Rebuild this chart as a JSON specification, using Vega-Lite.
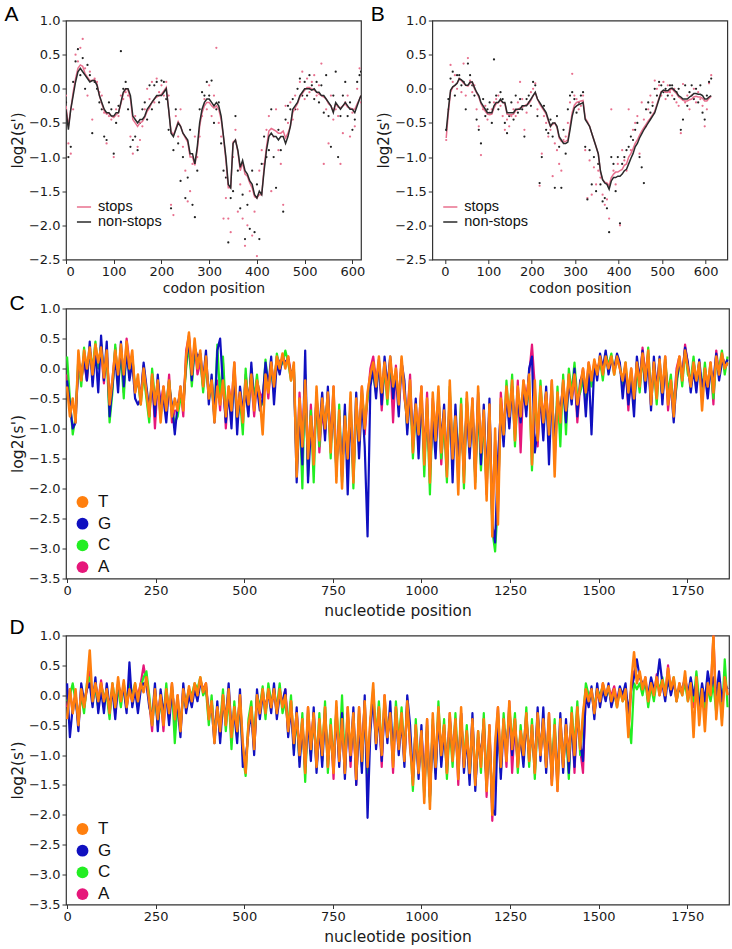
{
"$schema": "https://vega.github.io/schema/vega-lite/v6.json",
"background": "white",
"padding": {"left": 3, "top": 2.5, "right": 4, "bottom": 0},
"spacing": -4,
"config": {
 "font": "DejaVu Sans",
 "view": {"stroke": "#333333", "strokeWidth": 1.2},
 "axis": {"grid": false, "domain": false, "ticks": true, "tickColor": "#333333", "tickSize": 4, "tickWidth": 1, "labelFont": "DejaVu Sans", "labelFontSize": 13, "labelColor": "#1a1a1a", "labelPadding": 2, "labelOverlap": false, "titleFont": "DejaVu Sans", "titleFontSize": 14, "titleFontWeight": "normal", "titleColor": "#1a1a1a"},
 "title": {"font": "Liberation Sans", "fontSize": 21, "fontWeight": "normal", "anchor": "start", "frame": "bounds", "offset": -10, "color": "#000000", "baseline": "alphabetic"},
 "legend": {"title": null, "orient": "none", "padding": 0, "labelFont": "Liberation Sans", "labelColor": "#111111"}
},
"resolve": {"scale": {"color": "independent", "x": "independent", "y": "independent"}, "legend": {"color": "independent"}},
"datasets": {
"a": [
{"c":0,"ns":-0.3,"st":-0.25,"pn":-0.2,"ps":-0.1},
{"c":5,"ns":-0.6,"st":-0.55,"pn":-1.0,"ps":-0.8},
{"c":10,"ns":-0.3,"st":-0.3,"pn":-0.85,"ps":-0.95},
{"c":15,"ns":-0.1,"st":-0.05,"pn":0.1,"ps":-0.3},
{"c":20,"ns":0.1,"st":0.15,"pn":0.4,"ps":0.5},
{"c":25,"ns":0.25,"st":0.3,"pn":0.58,"ps":0.4},
{"c":30,"ns":0.3,"st":0.35,"pn":0.2,"ps":0.6},
{"c":35,"ns":0.25,"st":0.33,"pn":0.45,"ps":0.73},
{"c":40,"ns":0.2,"st":0.22,"pn":0.0,"ps":0.3},
{"c":45,"ns":0.15,"st":0.17,"pn":0.35,"ps":-0.1},
{"c":50,"ns":0.1,"st":0.12,"pn":0.2,"ps":0.25},
{"c":55,"ns":0.12,"st":0.12,"pn":-0.65,"ps":-0.45},
{"c":60,"ns":0.12,"st":0.13,"pn":0.1,"ps":0.15},
{"c":65,"ns":0.05,"st":0.07,"pn":0.0,"ps":0.1},
{"c":70,"ns":-0.1,"st":-0.1,"pn":-0.2,"ps":-0.05},
{"c":75,"ns":-0.2,"st":-0.22,"pn":-0.3,"ps":-0.1},
{"c":80,"ns":-0.3,"st":-0.32,"pn":-0.7,"ps":-0.35},
{"c":85,"ns":-0.35,"st":-0.37,"pn":-0.75,"ps":-0.8},
{"c":90,"ns":-0.35,"st":-0.36,"pn":-0.2,"ps":-0.4},
{"c":95,"ns":-0.4,"st":-0.4,"pn":-0.3,"ps":-0.45},
{"c":100,"ns":-0.4,"st":-0.42,"pn":-0.95,"ps":-1.0},
{"c":105,"ns":-0.35,"st":-0.38,"pn":-0.5,"ps":-0.3},
{"c":110,"ns":-0.35,"st":-0.35,"pn":-0.25,"ps":-0.4},
{"c":115,"ns":-0.2,"st":-0.22,"pn":0.55,"ps":-0.1},
{"c":120,"ns":-0.05,"st":-0.07,"pn":0.0,"ps":-0.15},
{"c":125,"ns":0.0,"st":0.0,"pn":0.1,"ps":-0.05},
{"c":130,"ns":0.0,"st":-0.02,"pn":-0.3,"ps":-0.1},
{"c":135,"ns":-0.1,"st":-0.15,"pn":-0.85,"ps":-0.7},
{"c":140,"ns":-0.4,"st":-0.45,"pn":-0.75,"ps":-0.95},
{"c":145,"ns":-0.45,"st":-0.5,"pn":-0.7,"ps":-0.4},
{"c":150,"ns":-0.5,"st":-0.55,"pn":-0.9,"ps":-0.85},
{"c":155,"ns":-0.45,"st":-0.5,"pn":-0.5,"ps":-0.75},
{"c":160,"ns":-0.45,"st":-0.48,"pn":-0.3,"ps":-0.55},
{"c":165,"ns":-0.4,"st":-0.42,"pn":-0.2,"ps":-0.3},
{"c":170,"ns":-0.3,"st":-0.33,"pn":-0.45,"ps":0.0},
{"c":175,"ns":-0.25,"st":-0.28,"pn":0.05,"ps":-0.15},
{"c":180,"ns":-0.2,"st":-0.2,"pn":-0.3,"ps":0.1},
{"c":185,"ns":-0.15,"st":-0.15,"pn":0.05,"ps":-0.2},
{"c":190,"ns":-0.1,"st":-0.12,"pn":0.1,"ps":0.15},
{"c":195,"ns":-0.1,"st":-0.1,"pn":-0.2,"ps":-0.05},
{"c":200,"ns":-0.1,"st":-0.08,"pn":0.12,"ps":0.05},
{"c":205,"ns":-0.05,"st":-0.03,"pn":0.1,"ps":-0.1},
{"c":210,"ns":0.0,"st":0.02,"pn":-0.15,"ps":0.1},
{"c":215,"ns":-0.3,"st":-0.3,"pn":-0.6,"ps":-0.1},
{"c":220,"ns":-0.65,"st":-0.62,"pn":-1.75,"ps":-1.7},
{"c":225,"ns":-0.7,"st":-0.68,"pn":-0.9,"ps":-1.85},
{"c":230,"ns":-0.6,"st":-0.58,"pn":-0.3,"ps":-0.4},
{"c":235,"ns":-0.5,"st":-0.48,"pn":-0.8,"ps":-0.7},
{"c":240,"ns":-0.55,"st":-0.55,"pn":-1.35,"ps":-0.3},
{"c":245,"ns":-0.65,"st":-0.65,"pn":-1.0,"ps":-0.85},
{"c":250,"ns":-0.7,"st":-0.72,"pn":-1.6,"ps":-1.2},
{"c":255,"ns":-0.75,"st":-0.78,"pn":-1.3,"ps":-1.65},
{"c":260,"ns":-0.95,"st":-1.0,"pn":-0.6,"ps":-1.5},
{"c":265,"ns":-0.95,"st":-1.0,"pn":-1.7,"ps":-1.1},
{"c":270,"ns":-1.1,"st":-1.12,"pn":-1.88,"ps":-0.7},
{"c":275,"ns":-0.85,"st":-0.9,"pn":-1.2,"ps":-1.0},
{"c":280,"ns":-0.5,"st":-0.55,"pn":-0.3,"ps":-0.7},
{"c":285,"ns":-0.3,"st":-0.35,"pn":-0.05,"ps":-0.4},
{"c":290,"ns":-0.2,"st":-0.25,"pn":-0.1,"ps":-0.15},
{"c":295,"ns":-0.15,"st":-0.2,"pn":0.1,"ps":-0.3},
{"c":300,"ns":-0.15,"st":-0.2,"pn":-0.1,"ps":0.05},
{"c":305,"ns":-0.2,"st":-0.25,"pn":0.12,"ps":-0.4},
{"c":310,"ns":-0.25,"st":-0.28,"pn":-0.5,"ps":-0.1},
{"c":315,"ns":-0.2,"st":-0.25,"pn":-0.3,"ps":0.6},
{"c":320,"ns":-0.25,"st":-0.3,"pn":-0.2,"ps":-0.5},
{"c":325,"ns":-0.4,"st":-0.45,"pn":-0.8,"ps":-0.7},
{"c":330,"ns":-0.7,"st":-0.72,"pn":-1.2,"ps":-1.9},
{"c":335,"ns":-1.0,"st":-1.05,"pn":-1.3,"ps":-1.6},
{"c":340,"ns":-1.4,"st":-1.45,"pn":-2.25,"ps":-1.9},
{"c":345,"ns":-1.45,"st":-1.45,"pn":-1.6,"ps":-2.1},
{"c":350,"ns":-0.8,"st":-0.78,"pn":-1.5,"ps":-1.0},
{"c":355,"ns":-0.75,"st":-0.75,"pn":-0.4,"ps":-0.6},
{"c":360,"ns":-0.9,"st":-0.92,"pn":-1.2,"ps":-1.8},
{"c":365,"ns":-1.15,"st":-1.2,"pn":-1.75,"ps":-1.4},
{"c":370,"ns":-1.05,"st":-1.08,"pn":-1.55,"ps":-1.9},
{"c":375,"ns":-1.2,"st":-1.25,"pn":-2.2,"ps":-2.3},
{"c":380,"ns":-1.25,"st":-1.28,"pn":-1.7,"ps":-2.0},
{"c":385,"ns":-1.35,"st":-1.38,"pn":-2.05,"ps":-1.5},
{"c":390,"ns":-1.4,"st":-1.45,"pn":-1.2,"ps":-2.15},
{"c":395,"ns":-1.55,"st":-1.58,"pn":-2.1,"ps":-1.8},
{"c":400,"ns":-1.6,"st":-1.6,"pn":-1.4,"ps":-2.45},
{"c":405,"ns":-1.5,"st":-1.55,"pn":-2.2,"ps":-1.2},
{"c":410,"ns":-1.55,"st":-1.55,"pn":-1.1,"ps":-0.9},
{"c":415,"ns":-1.2,"st":-1.15,"pn":-0.7,"ps":-1.1},
{"c":420,"ns":-0.9,"st":-0.85,"pn":-1.0,"ps":-0.6},
{"c":425,"ns":-0.7,"st":-0.62,"pn":-0.9,"ps":-0.4},
{"c":430,"ns":-0.65,"st":-0.58,"pn":-0.3,"ps":-1.5},
{"c":435,"ns":-0.7,"st":-0.6,"pn":-1.0,"ps":-0.7},
{"c":440,"ns":-0.7,"st":-0.62,"pn":-1.45,"ps":-0.3},
{"c":445,"ns":-0.75,"st":-0.65,"pn":-0.6,"ps":-0.9},
{"c":450,"ns":-0.7,"st":-0.65,"pn":-0.9,"ps":-1.1},
{"c":455,"ns":-0.7,"st":-0.62,"pn":-1.8,"ps":-1.7},
{"c":460,"ns":-0.8,"st":-0.72,"pn":-0.45,"ps":-0.25},
{"c":465,"ns":-0.7,"st":-0.65,"pn":-0.25,"ps":-0.5},
{"c":470,"ns":-0.55,"st":-0.55,"pn":-0.3,"ps":-0.2},
{"c":475,"ns":-0.3,"st":-0.35,"pn":-0.15,"ps":-0.45},
{"c":480,"ns":-0.25,"st":-0.28,"pn":-0.3,"ps":-0.1},
{"c":485,"ns":-0.2,"st":-0.22,"pn":0.0,"ps":-0.3},
{"c":490,"ns":-0.1,"st":-0.12,"pn":0.15,"ps":0.1},
{"c":495,"ns":-0.05,"st":-0.07,"pn":-0.1,"ps":0.25},
{"c":500,"ns":0.0,"st":-0.02,"pn":0.1,"ps":-0.15},
{"c":505,"ns":0.0,"st":0.02,"pn":-0.1,"ps":0.15},
{"c":510,"ns":0.0,"st":0.02,"pn":0.2,"ps":-0.05},
{"c":515,"ns":-0.02,"st":0.0,"pn":0.05,"ps":0.1},
{"c":520,"ns":0.0,"st":-0.02,"pn":-0.15,"ps":0.2},
{"c":525,"ns":-0.05,"st":-0.05,"pn":0.1,"ps":-0.1},
{"c":530,"ns":-0.05,"st":-0.08,"pn":-0.2,"ps":0.05},
{"c":535,"ns":-0.1,"st":-0.1,"pn":0.05,"ps":0.37},
{"c":540,"ns":-0.1,"st":-0.12,"pn":-0.35,"ps":-1.1},
{"c":545,"ns":-0.15,"st":-0.15,"pn":0.2,"ps":-0.3},
{"c":550,"ns":-0.2,"st":-0.22,"pn":-0.4,"ps":-0.8},
{"c":555,"ns":-0.25,"st":-0.25,"pn":-0.85,"ps":-0.1},
{"c":560,"ns":-0.35,"st":-0.33,"pn":-0.1,"ps":-0.45},
{"c":565,"ns":-0.2,"st":-0.22,"pn":0.25,"ps":-0.3},
{"c":570,"ns":-0.25,"st":-0.27,"pn":-1.0,"ps":-0.4},
{"c":575,"ns":-0.3,"st":-0.28,"pn":-0.4,"ps":-1.1},
{"c":580,"ns":-0.25,"st":-0.25,"pn":-0.1,"ps":-0.65},
{"c":585,"ns":-0.2,"st":-0.22,"pn":0.1,"ps":-0.2},
{"c":590,"ns":-0.25,"st":-0.27,"pn":-0.4,"ps":-0.1},
{"c":595,"ns":-0.3,"st":-0.28,"pn":-0.2,"ps":-0.7},
{"c":600,"ns":-0.3,"st":-0.3,"pn":-0.6,"ps":-0.35},
{"c":605,"ns":-0.35,"st":-0.3,"pn":-0.45,"ps":-0.55},
{"c":610,"ns":-0.25,"st":-0.22,"pn":0.1,"ps":0.0},
{"c":615,"ns":-0.15,"st":-0.15,"pn":0.2,"ps":0.3},
{"c":618,"ns":-0.1,"st":-0.1,"pn":0.25,"ps":-0.2}
],
"b": [
{"c":3,"ns":-0.62,"st":-0.72,"pn":-0.6,"ps":-0.75},
{"c":8,"ns":-0.3,"st":-0.35,"pn":-0.15,"ps":-0.3},
{"c":13,"ns":-0.02,"st":-0.05,"pn":0.15,"ps":0.35},
{"c":18,"ns":0.03,"st":0.02,"pn":0.25,"ps":0.1},
{"c":23,"ns":0.05,"st":0.05,"pn":-0.1,"ps":0.2},
{"c":28,"ns":0.08,"st":0.08,"pn":0.2,"ps":0.0},
{"c":33,"ns":0.15,"st":0.14,"pn":0.2,"ps":0.15},
{"c":38,"ns":0.13,"st":0.12,"pn":0.05,"ps":-0.05},
{"c":43,"ns":0.1,"st":0.08,"pn":0.1,"ps":0.37},
{"c":48,"ns":0.05,"st":0.05,"pn":-0.3,"ps":-0.1},
{"c":53,"ns":0.05,"st":0.04,"pn":0.37,"ps":0.45},
{"c":58,"ns":0.1,"st":0.08,"pn":0.2,"ps":0.12},
{"c":63,"ns":0.1,"st":0.1,"pn":0.05,"ps":-0.05},
{"c":68,"ns":0.02,"st":0.0,"pn":-0.1,"ps":0.05},
{"c":73,"ns":-0.05,"st":-0.06,"pn":-0.45,"ps":-0.3},
{"c":78,"ns":-0.1,"st":-0.12,"pn":-0.6,"ps":-0.55},
{"c":83,"ns":-0.2,"st":-0.22,"pn":-0.8,"ps":-0.97},
{"c":88,"ns":-0.25,"st":-0.28,"pn":-0.15,"ps":-0.3},
{"c":93,"ns":-0.3,"st":-0.33,"pn":-0.4,"ps":-0.25},
{"c":98,"ns":-0.35,"st":-0.37,"pn":-0.3,"ps":-0.45},
{"c":103,"ns":-0.35,"st":-0.38,"pn":-0.2,"ps":-0.35},
{"c":108,"ns":-0.35,"st":-0.37,"pn":-0.5,"ps":-0.3},
{"c":113,"ns":-0.25,"st":-0.28,"pn":0.43,"ps":-0.2},
{"c":118,"ns":-0.2,"st":-0.22,"pn":-0.1,"ps":-0.15},
{"c":123,"ns":-0.2,"st":-0.2,"pn":-0.3,"ps":-0.1},
{"c":128,"ns":-0.15,"st":-0.17,"pn":-0.05,"ps":-0.25},
{"c":133,"ns":-0.2,"st":-0.2,"pn":-0.15,"ps":-0.4},
{"c":138,"ns":-0.2,"st":-0.22,"pn":-0.5,"ps":-0.6},
{"c":143,"ns":-0.35,"st":-0.37,"pn":-0.65,"ps":-0.45},
{"c":148,"ns":-0.35,"st":-0.38,"pn":-0.4,"ps":-0.55},
{"c":153,"ns":-0.35,"st":-0.38,"pn":-0.2,"ps":-0.4},
{"c":158,"ns":-0.35,"st":-0.37,"pn":-0.45,"ps":-0.3},
{"c":163,"ns":-0.3,"st":-0.32,"pn":-0.1,"ps":-0.4},
{"c":168,"ns":-0.3,"st":-0.3,"pn":-0.35,"ps":-0.2},
{"c":173,"ns":-0.3,"st":-0.28,"pn":-0.15,"ps":0.1},
{"c":178,"ns":-0.25,"st":-0.27,"pn":-0.3,"ps":-0.15},
{"c":183,"ns":-0.25,"st":-0.25,"pn":-0.7,"ps":-0.6},
{"c":188,"ns":-0.25,"st":-0.23,"pn":-0.15,"ps":-0.35},
{"c":193,"ns":-0.2,"st":-0.22,"pn":-0.1,"ps":-0.2},
{"c":198,"ns":-0.15,"st":-0.17,"pn":-0.25,"ps":-0.05},
{"c":203,"ns":-0.1,"st":-0.1,"pn":0.1,"ps":0.0},
{"c":208,"ns":-0.05,"st":-0.06,"pn":0.05,"ps":0.08},
{"c":213,"ns":-0.15,"st":-0.15,"pn":-0.4,"ps":-0.3},
{"c":218,"ns":-0.2,"st":-0.22,"pn":-1.38,"ps":-1.42},
{"c":223,"ns":-0.25,"st":-0.27,"pn":-1.0,"ps":-0.95},
{"c":228,"ns":-0.3,"st":-0.32,"pn":-0.25,"ps":-0.4},
{"c":233,"ns":-0.35,"st":-0.37,"pn":-0.6,"ps":-0.5},
{"c":238,"ns":-0.45,"st":-0.47,"pn":-0.65,"ps":-0.7},
{"c":243,"ns":-0.55,"st":-0.55,"pn":-0.45,"ps":-0.6},
{"c":248,"ns":-0.5,"st":-0.52,"pn":-0.7,"ps":-1.28},
{"c":253,"ns":-0.5,"st":-0.5,"pn":-1.45,"ps":-0.8},
{"c":258,"ns":-0.55,"st":-0.57,"pn":-0.4,"ps":-0.9},
{"c":263,"ns":-0.7,"st":-0.72,"pn":-0.85,"ps":-1.1},
{"c":268,"ns":-0.75,"st":-0.77,"pn":-1.45,"ps":-1.2},
{"c":273,"ns":-0.8,"st":-0.78,"pn":-0.6,"ps":-0.75},
{"c":278,"ns":-0.8,"st":-0.77,"pn":-0.95,"ps":-0.7},
{"c":283,"ns":-0.78,"st":-0.75,"pn":-0.3,"ps":-0.5},
{"c":288,"ns":-0.6,"st":-0.55,"pn":-0.1,"ps":-0.2},
{"c":293,"ns":-0.4,"st":-0.35,"pn":-0.05,"ps":0.22},
{"c":298,"ns":-0.28,"st":-0.24,"pn":-0.15,"ps":-0.1},
{"c":303,"ns":-0.25,"st":-0.2,"pn":-0.35,"ps":-0.15},
{"c":308,"ns":-0.23,"st":-0.19,"pn":-0.2,"ps":-0.3},
{"c":313,"ns":-0.22,"st":-0.18,"pn":-0.1,"ps":-0.25},
{"c":318,"ns":-0.2,"st":-0.17,"pn":-0.05,"ps":-0.1},
{"c":323,"ns":-0.45,"st":-0.43,"pn":-0.85,"ps":-0.9},
{"c":328,"ns":-0.5,"st":-0.48,"pn":-1.62,"ps":-1.6},
{"c":333,"ns":-0.55,"st":-0.55,"pn":-0.9,"ps":-1.05},
{"c":338,"ns":-0.65,"st":-0.65,"pn":-1.4,"ps":-1.55},
{"c":343,"ns":-0.75,"st":-0.75,"pn":-1.0,"ps":-1.15},
{"c":348,"ns":-0.85,"st":-0.85,"pn":-1.5,"ps":-1.4},
{"c":353,"ns":-0.95,"st":-0.95,"pn":-1.1,"ps":-1.2},
{"c":358,"ns":-1.2,"st":-1.22,"pn":-1.4,"ps":-1.3},
{"c":363,"ns":-1.33,"st":-1.33,"pn":-1.65,"ps":-1.55},
{"c":368,"ns":-1.38,"st":-1.37,"pn":-1.6,"ps":-1.7},
{"c":373,"ns":-1.4,"st":-1.38,"pn":-1.75,"ps":-1.62},
{"c":378,"ns":-1.47,"st":-1.42,"pn":-2.1,"ps":-1.9},
{"c":383,"ns":-1.35,"st":-1.3,"pn":-1.0,"ps":-0.3},
{"c":388,"ns":-1.3,"st":-1.25,"pn":-1.1,"ps":-1.2},
{"c":393,"ns":-1.3,"st":-1.22,"pn":-1.5,"ps":-1.4},
{"c":398,"ns":-1.28,"st":-1.22,"pn":-1.0,"ps":-1.1},
{"c":403,"ns":-1.28,"st":-1.2,"pn":-1.97,"ps":-2.0},
{"c":408,"ns":-1.25,"st":-1.18,"pn":-1.1,"ps":-0.9},
{"c":413,"ns":-1.2,"st":-1.12,"pn":-1.0,"ps":-1.05},
{"c":418,"ns":-1.18,"st":-1.1,"pn":-0.9,"ps":-1.2},
{"c":423,"ns":-1.1,"st":-1.0,"pn":-0.85,"ps":-0.3},
{"c":428,"ns":-1.02,"st":-0.95,"pn":-0.7,"ps":-0.9},
{"c":433,"ns":-0.95,"st":-0.88,"pn":-0.75,"ps":-0.6},
{"c":438,"ns":-0.85,"st":-0.8,"pn":-0.6,"ps":-0.5},
{"c":443,"ns":-0.8,"st":-0.75,"pn":-0.5,"ps":-0.4},
{"c":448,"ns":-0.72,"st":-0.68,"pn":-1.0,"ps":-0.95},
{"c":453,"ns":-0.66,"st":-0.62,"pn":-1.15,"ps":-0.2},
{"c":458,"ns":-0.6,"st":-0.57,"pn":-1.38,"ps":-0.45},
{"c":463,"ns":-0.55,"st":-0.52,"pn":-0.3,"ps":-0.55},
{"c":468,"ns":-0.5,"st":-0.47,"pn":-0.2,"ps":-0.3},
{"c":473,"ns":-0.45,"st":-0.43,"pn":-0.35,"ps":-0.1},
{"c":478,"ns":-0.4,"st":-0.38,"pn":-0.25,"ps":-0.2},
{"c":483,"ns":-0.35,"st":-0.33,"pn":0.0,"ps":0.12},
{"c":488,"ns":-0.25,"st":-0.23,"pn":-0.1,"ps":0.0},
{"c":493,"ns":-0.15,"st":-0.13,"pn":0.1,"ps":0.05},
{"c":498,"ns":-0.05,"st":-0.04,"pn":0.05,"ps":-0.1},
{"c":503,"ns":-0.02,"st":-0.03,"pn":-0.05,"ps":0.1},
{"c":508,"ns":-0.03,"st":-0.05,"pn":0.0,"ps":-0.15},
{"c":513,"ns":-0.03,"st":-0.05,"pn":-0.1,"ps":0.05},
{"c":518,"ns":0.0,"st":-0.02,"pn":0.05,"ps":-0.05},
{"c":523,"ns":0.01,"st":0.0,"pn":0.05,"ps":-0.1},
{"c":528,"ns":-0.02,"st":-0.04,"pn":-0.15,"ps":0.0},
{"c":533,"ns":-0.05,"st":-0.07,"pn":-0.05,"ps":-0.2},
{"c":538,"ns":-0.1,"st":-0.12,"pn":0.0,"ps":-0.25},
{"c":543,"ns":-0.12,"st":-0.14,"pn":-0.6,"ps":-0.65},
{"c":548,"ns":-0.15,"st":-0.17,"pn":-0.45,"ps":0.07},
{"c":553,"ns":-0.15,"st":-0.18,"pn":0.05,"ps":-0.2},
{"c":558,"ns":-0.15,"st":-0.18,"pn":-0.25,"ps":-0.1},
{"c":563,"ns":-0.12,"st":-0.16,"pn":-0.05,"ps":-0.3},
{"c":568,"ns":-0.1,"st":-0.15,"pn":0.05,"ps":-0.1},
{"c":573,"ns":-0.07,"st":-0.12,"pn":-0.15,"ps":0.0},
{"c":578,"ns":-0.07,"st":-0.11,"pn":0.0,"ps":-0.2},
{"c":583,"ns":-0.08,"st":-0.12,"pn":-0.2,"ps":-0.05},
{"c":588,"ns":-0.08,"st":-0.12,"pn":0.05,"ps":-0.15},
{"c":593,"ns":-0.1,"st":-0.14,"pn":-0.35,"ps":-0.25},
{"c":598,"ns":-0.15,"st":-0.18,"pn":-0.45,"ps":-0.55},
{"c":603,"ns":-0.15,"st":-0.18,"pn":-0.1,"ps":-0.3},
{"c":608,"ns":-0.12,"st":-0.14,"pn":0.1,"ps":0.08},
{"c":613,"ns":-0.1,"st":-0.11,"pn":0.15,"ps":0.2}
],
"c": [
{"p":0,"T":-0.3,"G":-0.2,"C":0.2,"A":-0.1},
{"p":8,"T":-0.8,"G":-0.6,"C":-0.5,"A":-0.7},
{"p":16,"T":-0.5,"G":-1.0,"C":-1.1,"A":-0.6},
{"p":24,"T":-0.9,"G":-0.9,"C":-0.8,"A":-0.7},
{"p":32,"T":0.3,"G":0.1,"C":0.2,"A":0.0},
{"p":40,"T":-0.2,"G":-0.1,"C":-0.3,"A":-0.2},
{"p":48,"T":0.3,"G":0.2,"C":0.35,"A":0.1},
{"p":56,"T":0.0,"G":-0.2,"C":-0.1,"A":-0.2},
{"p":64,"T":0.35,"G":0.45,"C":0.3,"A":0.3},
{"p":72,"T":-0.1,"G":-0.3,"C":0.0,"A":-0.1},
{"p":80,"T":0.4,"G":0.3,"C":0.45,"A":0.35},
{"p":88,"T":0.1,"G":-0.4,"C":0.0,"A":0.05},
{"p":96,"T":0.35,"G":0.55,"C":0.4,"A":0.3},
{"p":104,"T":-0.15,"G":-0.2,"C":-0.1,"A":-0.25},
{"p":112,"T":0.3,"G":0.45,"C":0.2,"A":0.25},
{"p":120,"T":-0.6,"G":-0.8,"C":-0.9,"A":-0.5},
{"p":128,"T":-0.2,"G":-0.3,"C":-0.4,"A":-0.2},
{"p":136,"T":0.3,"G":0.2,"C":0.4,"A":0.35},
{"p":144,"T":-0.1,"G":-0.4,"C":-0.3,"A":-0.2},
{"p":152,"T":0.4,"G":0.45,"C":0.3,"A":0.3},
{"p":160,"T":-0.1,"G":-0.3,"C":-0.5,"A":-0.4},
{"p":168,"T":0.45,"G":0.3,"C":0.4,"A":0.5},
{"p":176,"T":0.0,"G":-0.2,"C":-0.1,"A":0.1},
{"p":184,"T":0.3,"G":0.1,"C":0.2,"A":0.2},
{"p":192,"T":-0.4,"G":-0.5,"C":-0.3,"A":-0.4},
{"p":200,"T":-0.1,"G":-0.6,"C":-0.2,"A":-0.2},
{"p":208,"T":-0.6,"G":-0.5,"C":-0.6,"A":-0.5},
{"p":216,"T":0.0,"G":0.1,"C":-0.1,"A":0.05},
{"p":224,"T":-0.4,"G":-0.3,"C":-0.5,"A":-0.4},
{"p":232,"T":-0.8,"G":-0.7,"C":-0.9,"A":-0.8},
{"p":240,"T":-0.1,"G":-0.2,"C":0.0,"A":-0.1},
{"p":248,"T":-0.6,"G":-0.8,"C":-0.5,"A":-1.0},
{"p":256,"T":-0.2,"G":-0.1,"C":-0.3,"A":-0.2},
{"p":264,"T":-0.9,"G":-0.7,"C":-0.8,"A":-0.6},
{"p":272,"T":-0.3,"G":-0.5,"C":-0.4,"A":-0.3},
{"p":280,"T":-0.7,"G":-0.9,"C":-0.6,"A":-0.7},
{"p":288,"T":-0.2,"G":-0.3,"C":-0.2,"A":-0.1},
{"p":296,"T":-0.8,"G":-0.6,"C":-0.7,"A":-0.9},
{"p":304,"T":-0.5,"G":-1.1,"C":-0.9,"A":-0.7},
{"p":312,"T":-0.7,"G":-0.6,"C":-0.8,"A":-0.7},
{"p":320,"T":-0.3,"G":-0.4,"C":-0.5,"A":-0.3},
{"p":328,"T":-0.7,"G":-0.6,"C":-0.6,"A":-0.8},
{"p":336,"T":0.2,"G":0.1,"C":0.0,"A":0.3},
{"p":344,"T":0.6,"G":0.5,"C":0.4,"A":0.55},
{"p":352,"T":-0.1,"G":-0.2,"C":-0.3,"A":0.0},
{"p":360,"T":0.5,"G":0.35,"C":0.3,"A":0.4},
{"p":368,"T":0.0,"G":0.2,"C":0.1,"A":-0.1},
{"p":376,"T":0.3,"G":0.25,"C":0.2,"A":0.1},
{"p":384,"T":-0.3,"G":-0.2,"C":-0.4,"A":-0.3},
{"p":392,"T":0.2,"G":0.3,"C":0.1,"A":0.2},
{"p":400,"T":-0.5,"G":-0.6,"C":-0.4,"A":-0.5},
{"p":408,"T":-0.2,"G":-0.1,"C":-0.3,"A":-0.2},
{"p":416,"T":-0.9,"G":-0.9,"C":-0.8,"A":-0.7},
{"p":424,"T":-0.3,"G":0.3,"C":0.4,"A":-0.2},
{"p":432,"T":-0.6,"G":0.5,"C":-0.5,"A":-0.7},
{"p":440,"T":-0.2,"G":-0.3,"C":0.2,"A":0.1},
{"p":448,"T":-0.8,"G":-0.9,"C":-0.7,"A":-1.0},
{"p":456,"T":-0.3,"G":-0.4,"C":-0.5,"A":-0.3},
{"p":464,"T":-0.7,"G":-1.0,"C":-0.8,"A":-0.6},
{"p":472,"T":0.1,"G":0.0,"C":-0.1,"A":0.1},
{"p":480,"T":-0.8,"G":-1.1,"C":-0.9,"A":-0.8},
{"p":488,"T":-0.4,"G":-0.3,"C":-0.5,"A":-0.4},
{"p":496,"T":-0.9,"G":-0.7,"C":-1.1,"A":-0.8},
{"p":504,"T":-0.2,"G":-0.4,"C":0.0,"A":-0.1},
{"p":512,"T":-0.6,"G":-0.8,"C":-0.7,"A":-0.5},
{"p":520,"T":-0.1,"G":0.1,"C":0.0,"A":-0.2},
{"p":528,"T":-0.7,"G":-0.6,"C":-0.5,"A":-0.8},
{"p":536,"T":-0.2,"G":-0.3,"C":-0.1,"A":-0.2},
{"p":544,"T":-0.5,"G":-0.7,"C":-0.6,"A":-0.4},
{"p":552,"T":-1.1,"G":-0.5,"C":-0.6,"A":-0.5},
{"p":560,"T":-0.1,"G":0.1,"C":0.15,"A":0.0},
{"p":568,"T":-0.4,"G":-0.3,"C":-0.3,"A":-0.5},
{"p":576,"T":0.1,"G":0.2,"C":0.0,"A":0.1},
{"p":584,"T":-0.3,"G":-0.6,"C":-0.4,"A":-0.3},
{"p":592,"T":0.2,"G":0.1,"C":0.25,"A":0.2},
{"p":600,"T":0.0,"G":-0.1,"C":0.0,"A":0.1},
{"p":608,"T":0.25,"G":0.2,"C":0.1,"A":0.15},
{"p":616,"T":0.0,"G":0.1,"C":0.3,"A":0.05},
{"p":624,"T":0.2,"G":0.15,"C":0.1,"A":0.2},
{"p":632,"T":-0.2,"G":-0.1,"C":-0.2,"A":-0.1},
{"p":640,"T":0.1,"G":0.0,"C":0.05,"A":0.0},
{"p":648,"T":-1.8,"G":-1.9,"C":-1.7,"A":-1.6},
{"p":656,"T":-0.5,"G":-0.7,"C":-0.6,"A":-0.4},
{"p":664,"T":-1.3,"G":-1.6,"C":-2.0,"A":-1.2},
{"p":672,"T":-0.2,"G":0.3,"C":-0.1,"A":-0.3},
{"p":680,"T":-1.5,"G":-1.9,"C":-1.8,"A":-1.6},
{"p":688,"T":-0.8,"G":-1.0,"C":-0.7,"A":-0.6},
{"p":696,"T":-1.6,"G":-1.4,"C":-1.9,"A":-1.5},
{"p":704,"T":-0.3,"G":-0.5,"C":-0.4,"A":-0.4},
{"p":712,"T":-1.2,"G":-1.0,"C":-1.3,"A":-1.4},
{"p":720,"T":-0.5,"G":-0.4,"C":-0.6,"A":-0.7},
{"p":728,"T":-1.0,"G":-1.2,"C":-0.9,"A":-1.1},
{"p":736,"T":-0.4,"G":-0.3,"C":-0.5,"A":-0.4},
{"p":744,"T":-1.4,"G":-1.3,"C":-1.5,"A":-1.2},
{"p":752,"T":-0.3,"G":-0.6,"C":-0.4,"A":-0.3},
{"p":760,"T":-1.9,"G":-1.7,"C":-1.8,"A":-1.6},
{"p":768,"T":-0.7,"G":-0.8,"C":-0.6,"A":-0.9},
{"p":776,"T":-2.0,"G":-1.8,"C":-1.9,"A":-1.7},
{"p":784,"T":-0.8,"G":-0.6,"C":-0.7,"A":-0.9},
{"p":792,"T":-1.5,"G":-2.1,"C":-1.6,"A":-1.4},
{"p":800,"T":-0.4,"G":-0.7,"C":-0.5,"A":-0.6},
{"p":808,"T":-1.9,"G":-1.7,"C":-2.0,"A":-1.8},
{"p":816,"T":-0.5,"G":-0.4,"C":-0.6,"A":-0.7},
{"p":824,"T":-1.2,"G":-1.5,"C":-1.3,"A":-1.1},
{"p":832,"T":-0.3,"G":-0.5,"C":-0.4,"A":-0.3},
{"p":840,"T":-1.0,"G":-1.3,"C":-0.9,"A":-1.1},
{"p":848,"T":-0.4,"G":-2.8,"C":-0.5,"A":-0.5},
{"p":856,"T":-0.1,"G":-0.3,"C":-0.2,"A":0.0},
{"p":864,"T":0.1,"G":0.0,"C":-0.1,"A":0.2},
{"p":872,"T":-0.3,"G":-0.5,"C":-0.4,"A":-0.2},
{"p":880,"T":0.2,"G":0.15,"C":0.1,"A":0.1},
{"p":888,"T":-0.4,"G":-0.6,"C":-0.5,"A":-0.7},
{"p":896,"T":0.1,"G":0.2,"C":0.0,"A":0.05},
{"p":904,"T":-0.5,"G":-0.3,"C":-0.6,"A":-0.4},
{"p":912,"T":0.2,"G":0.2,"C":0.1,"A":0.15},
{"p":920,"T":-0.3,"G":-0.5,"C":-0.4,"A":-0.9},
{"p":928,"T":0.0,"G":-0.1,"C":-0.2,"A":0.05},
{"p":936,"T":-0.6,"G":-0.8,"C":-0.5,"A":-0.6},
{"p":944,"T":0.2,"G":0.1,"C":0.05,"A":0.15},
{"p":952,"T":-0.4,"G":-0.2,"C":-0.3,"A":-0.5},
{"p":960,"T":-0.9,"G":-1.1,"C":-1.0,"A":-0.8},
{"p":968,"T":-0.2,"G":-0.4,"C":-0.3,"A":-0.1},
{"p":976,"T":-1.4,"G":-1.2,"C":-1.5,"A":-1.3},
{"p":984,"T":-0.6,"G":-0.5,"C":-0.7,"A":-0.8},
{"p":992,"T":-1.1,"G":-1.5,"C":-1.2,"A":-1.0},
{"p":1000,"T":-0.3,"G":-0.5,"C":-0.4,"A":-0.3},
{"p":1008,"T":-1.6,"G":-1.4,"C":-1.8,"A":-1.5},
{"p":1016,"T":-0.5,"G":-0.7,"C":-0.6,"A":-0.4},
{"p":1024,"T":-1.9,"G":-1.7,"C":-2.1,"A":-1.8},
{"p":1032,"T":-0.4,"G":-0.8,"C":-0.6,"A":-0.5},
{"p":1040,"T":-1.2,"G":-1.5,"C":-1.3,"A":-1.0},
{"p":1048,"T":-0.3,"G":-0.5,"C":-0.4,"A":-0.6},
{"p":1056,"T":-1.4,"G":-1.2,"C":-1.5,"A":-1.6},
{"p":1064,"T":-0.7,"G":-0.6,"C":-0.9,"A":-0.8},
{"p":1072,"T":-1.8,"G":-1.7,"C":-1.9,"A":-1.6},
{"p":1080,"T":-0.2,"G":-0.5,"C":-0.3,"A":-0.4},
{"p":1088,"T":-1.5,"G":-1.9,"C":-1.6,"A":-1.4},
{"p":1096,"T":-0.8,"G":-0.6,"C":-0.7,"A":-0.9},
{"p":1104,"T":-2.1,"G":-1.6,"C":-1.8,"A":-1.7},
{"p":1112,"T":-0.6,"G":-0.8,"C":-0.5,"A":-0.7},
{"p":1120,"T":-1.9,"G":-1.7,"C":-2.0,"A":-1.8},
{"p":1128,"T":-0.4,"G":-0.6,"C":-0.5,"A":-0.5},
{"p":1136,"T":-1.3,"G":-1.5,"C":-1.2,"A":-1.4},
{"p":1144,"T":-0.5,"G":-0.7,"C":-0.6,"A":-0.5},
{"p":1152,"T":-2.0,"G":-1.8,"C":-1.9,"A":-1.7},
{"p":1160,"T":-0.3,"G":-0.4,"C":-0.6,"A":-0.5},
{"p":1168,"T":-1.4,"G":-1.6,"C":-1.7,"A":-1.3},
{"p":1176,"T":-0.7,"G":-0.6,"C":-0.8,"A":-0.9},
{"p":1184,"T":-2.2,"G":-1.9,"C":-2.0,"A":-2.1},
{"p":1192,"T":-0.6,"G":-0.5,"C":-0.7,"A":-0.6},
{"p":1200,"T":-2.8,"G":-2.6,"C":-2.7,"A":-2.5},
{"p":1208,"T":-1.0,"G":-2.9,"C":-3.05,"A":-1.2},
{"p":1216,"T":-2.6,"G":-1.5,"C":-2.2,"A":-2.4},
{"p":1224,"T":-0.5,"G":-0.7,"C":-0.6,"A":-0.4},
{"p":1232,"T":-1.1,"G":-1.3,"C":-1.2,"A":-1.0},
{"p":1240,"T":-0.3,"G":-0.4,"C":-0.2,"A":-0.5},
{"p":1248,"T":-0.8,"G":-1.0,"C":-0.9,"A":-0.7},
{"p":1256,"T":-0.2,"G":-0.3,"C":-0.1,"A":-0.4},
{"p":1264,"T":-1.2,"G":-1.0,"C":-1.3,"A":-1.1},
{"p":1272,"T":-0.3,"G":-0.5,"C":-0.4,"A":-0.2},
{"p":1280,"T":-0.8,"G":-0.9,"C":-0.7,"A":-1.4},
{"p":1288,"T":-0.2,"G":-0.3,"C":-0.4,"A":-0.2},
{"p":1296,"T":-0.6,"G":-0.8,"C":-0.7,"A":-0.5},
{"p":1304,"T":-0.1,"G":0.0,"C":-0.2,"A":-0.1},
{"p":1312,"T":-1.6,"G":0.2,"C":-1.7,"A":0.4},
{"p":1320,"T":-0.2,"G":-1.4,"C":-0.5,"A":-0.3},
{"p":1328,"T":-1.2,"G":-1.0,"C":-1.1,"A":-1.3},
{"p":1336,"T":-0.3,"G":-0.5,"C":-0.2,"A":-0.4},
{"p":1344,"T":-0.9,"G":-1.2,"C":-1.0,"A":-0.8},
{"p":1352,"T":-0.4,"G":-0.3,"C":-0.5,"A":-0.4},
{"p":1360,"T":-1.1,"G":-1.6,"C":-1.2,"A":-1.0},
{"p":1368,"T":-0.2,"G":-0.4,"C":-0.3,"A":-0.2},
{"p":1376,"T":-1.8,"G":-1.3,"C":-1.4,"A":-1.5},
{"p":1384,"T":-0.4,"G":-0.5,"C":-0.3,"A":-0.6},
{"p":1392,"T":-0.9,"G":-0.7,"C":-1.3,"A":-0.8},
{"p":1400,"T":-0.2,"G":-0.3,"C":-0.1,"A":-0.2},
{"p":1408,"T":-0.7,"G":-0.9,"C":-1.1,"A":-0.8},
{"p":1416,"T":-0.1,"G":-0.2,"C":0.0,"A":-0.1},
{"p":1424,"T":-0.5,"G":-0.6,"C":-0.4,"A":-0.5},
{"p":1432,"T":-0.1,"G":0.0,"C":0.1,"A":-0.1},
{"p":1440,"T":-0.6,"G":-0.8,"C":-0.5,"A":-0.9},
{"p":1448,"T":-0.3,"G":-0.2,"C":-0.4,"A":-0.3},
{"p":1456,"T":0.0,"G":-0.1,"C":-0.2,"A":0.0},
{"p":1464,"T":-0.4,"G":-0.8,"C":-0.5,"A":-0.4},
{"p":1472,"T":0.1,"G":0.0,"C":0.05,"A":0.1},
{"p":1480,"T":-0.2,"G":-1.1,"C":-0.3,"A":-0.2},
{"p":1488,"T":0.15,"G":0.1,"C":0.0,"A":0.1},
{"p":1496,"T":-0.1,"G":-0.2,"C":-0.1,"A":0.0},
{"p":1504,"T":0.2,"G":0.25,"C":0.15,"A":0.1},
{"p":1512,"T":-0.1,"G":0.0,"C":-0.2,"A":-0.1},
{"p":1520,"T":0.2,"G":0.3,"C":0.25,"A":0.2},
{"p":1528,"T":0.0,"G":-0.1,"C":0.05,"A":0.0},
{"p":1536,"T":0.2,"G":0.15,"C":0.25,"A":0.2},
{"p":1544,"T":-0.1,"G":0.0,"C":-0.1,"A":-0.05},
{"p":1552,"T":0.2,"G":0.25,"C":0.2,"A":0.15},
{"p":1560,"T":0.0,"G":0.1,"C":0.05,"A":0.0},
{"p":1568,"T":-0.2,"G":-0.5,"C":-0.3,"A":-0.2},
{"p":1576,"T":0.1,"G":0.0,"C":0.1,"A":0.05},
{"p":1584,"T":-0.4,"G":-0.6,"C":-0.5,"A":-0.7},
{"p":1592,"T":0.0,"G":-0.2,"C":-0.1,"A":0.0},
{"p":1600,"T":-0.5,"G":-0.8,"C":-0.6,"A":-0.5},
{"p":1608,"T":0.1,"G":0.2,"C":0.0,"A":0.1},
{"p":1616,"T":-0.3,"G":-0.2,"C":-0.4,"A":-0.3},
{"p":1624,"T":0.25,"G":0.3,"C":0.2,"A":0.35},
{"p":1632,"T":-0.2,"G":-0.4,"C":-0.3,"A":-0.1},
{"p":1640,"T":0.3,"G":0.2,"C":0.35,"A":0.25},
{"p":1648,"T":-0.6,"G":-0.7,"C":-0.5,"A":-0.6},
{"p":1656,"T":0.1,"G":0.2,"C":0.0,"A":0.1},
{"p":1664,"T":-0.5,"G":-0.4,"C":-0.6,"A":-0.3},
{"p":1672,"T":0.15,"G":0.2,"C":0.1,"A":0.1},
{"p":1680,"T":-0.4,"G":-0.6,"C":-0.5,"A":-0.5},
{"p":1688,"T":0.2,"G":0.1,"C":0.15,"A":0.2},
{"p":1696,"T":-0.6,"G":-0.5,"C":-0.4,"A":-0.7},
{"p":1704,"T":-0.2,"G":-0.3,"C":-0.1,"A":-0.2},
{"p":1712,"T":-0.8,"G":-0.9,"C":-0.7,"A":-0.6},
{"p":1720,"T":-0.1,"G":-0.2,"C":-0.3,"A":0.0},
{"p":1728,"T":0.2,"G":0.1,"C":0.15,"A":0.2},
{"p":1736,"T":-0.2,"G":-0.1,"C":-0.3,"A":-0.2},
{"p":1744,"T":0.3,"G":0.35,"C":0.3,"A":0.4},
{"p":1752,"T":0.0,"G":0.1,"C":-0.1,"A":0.05},
{"p":1760,"T":-0.3,"G":-0.4,"C":-0.2,"A":-0.3},
{"p":1768,"T":0.1,"G":0.0,"C":0.2,"A":0.1},
{"p":1776,"T":-0.2,"G":-0.4,"C":-0.3,"A":-0.2},
{"p":1784,"T":0.1,"G":0.15,"C":0.05,"A":0.1},
{"p":1792,"T":-0.7,"G":-0.3,"C":-0.4,"A":-0.5},
{"p":1800,"T":0.0,"G":-0.1,"C":0.1,"A":0.0},
{"p":1808,"T":-0.3,"G":-0.5,"C":-0.4,"A":-0.3},
{"p":1816,"T":0.1,"G":0.0,"C":0.05,"A":0.1},
{"p":1824,"T":-0.4,"G":-0.2,"C":-0.5,"A":-0.6},
{"p":1832,"T":0.2,"G":0.25,"C":0.15,"A":0.3},
{"p":1840,"T":-0.1,"G":-0.2,"C":0.0,"A":-0.1},
{"p":1848,"T":0.25,"G":0.1,"C":0.3,"A":0.2},
{"p":1856,"T":0.0,"G":0.05,"C":-0.1,"A":0.1},
{"p":1864,"T":0.1,"G":0.15,"C":0.2,"A":0.05}
],
"d": [
{"p":0,"T":-0.4,"G":0.2,"C":-0.1,"A":-0.2},
{"p":8,"T":0.1,"G":-0.7,"C":0.0,"A":0.1},
{"p":16,"T":-0.3,"G":-0.2,"C":0.2,"A":-0.3},
{"p":24,"T":0.1,"G":0.0,"C":-0.1,"A":0.05},
{"p":32,"T":-0.5,"G":-0.6,"C":-0.4,"A":-0.5},
{"p":40,"T":0.1,"G":0.2,"C":0.0,"A":0.1},
{"p":48,"T":-0.2,"G":-0.1,"C":-0.3,"A":-0.2},
{"p":56,"T":0.15,"G":0.1,"C":0.2,"A":0.1},
{"p":64,"T":0.75,"G":0.2,"C":0.3,"A":0.4},
{"p":72,"T":-0.1,"G":-0.2,"C":0.0,"A":-0.1},
{"p":80,"T":0.2,"G":0.3,"C":0.1,"A":0.2},
{"p":88,"T":-0.1,"G":-0.3,"C":-0.2,"A":-0.1},
{"p":96,"T":0.2,"G":0.1,"C":0.15,"A":0.25},
{"p":104,"T":-0.1,"G":-0.3,"C":0.0,"A":-0.1},
{"p":112,"T":0.1,"G":0.2,"C":0.0,"A":0.05},
{"p":120,"T":-0.3,"G":-0.2,"C":-0.4,"A":-0.3},
{"p":128,"T":0.2,"G":0.1,"C":0.2,"A":0.15},
{"p":136,"T":-0.2,"G":-0.4,"C":-0.1,"A":-0.3},
{"p":144,"T":0.3,"G":0.2,"C":0.1,"A":0.2},
{"p":152,"T":-0.1,"G":0.0,"C":-0.2,"A":-0.1},
{"p":160,"T":0.25,"G":0.1,"C":0.2,"A":0.15},
{"p":168,"T":-0.2,"G":-0.3,"C":-0.1,"A":-0.2},
{"p":176,"T":0.1,"G":0.55,"C":0.2,"A":0.1},
{"p":184,"T":-0.1,"G":-0.2,"C":0.0,"A":-0.1},
{"p":192,"T":0.2,"G":0.1,"C":0.2,"A":0.15},
{"p":200,"T":-0.1,"G":-0.3,"C":-0.2,"A":0.0},
{"p":208,"T":0.2,"G":0.1,"C":0.15,"A":0.2},
{"p":216,"T":0.05,"G":0.2,"C":0.3,"A":0.5},
{"p":224,"T":0.3,"G":0.2,"C":0.4,"A":0.2},
{"p":232,"T":-0.1,"G":-0.2,"C":0.0,"A":-0.1},
{"p":240,"T":-0.5,"G":-0.4,"C":-0.5,"A":-0.6},
{"p":248,"T":0.1,"G":0.2,"C":0.0,"A":0.1},
{"p":256,"T":-0.4,"G":-0.6,"C":-0.5,"A":-0.4},
{"p":264,"T":0.0,"G":0.1,"C":-0.1,"A":0.0},
{"p":272,"T":-0.5,"G":-0.3,"C":-0.4,"A":-0.6},
{"p":280,"T":0.1,"G":0.0,"C":0.2,"A":0.1},
{"p":288,"T":-0.3,"G":-0.5,"C":-0.4,"A":-0.3},
{"p":296,"T":0.2,"G":0.1,"C":0.15,"A":0.2},
{"p":304,"T":-0.4,"G":-0.3,"C":-0.8,"A":-0.5},
{"p":312,"T":0.0,"G":-0.2,"C":-0.1,"A":0.0},
{"p":320,"T":-0.6,"G":-0.7,"C":-0.5,"A":-0.6},
{"p":328,"T":0.1,"G":0.2,"C":0.0,"A":0.1},
{"p":336,"T":-0.2,"G":-0.3,"C":-0.1,"A":-0.2},
{"p":344,"T":0.15,"G":0.0,"C":0.1,"A":0.1},
{"p":352,"T":-0.1,"G":-0.2,"C":0.0,"A":-0.1},
{"p":360,"T":0.2,"G":0.1,"C":0.2,"A":0.15},
{"p":368,"T":0.0,"G":-0.1,"C":0.1,"A":0.0},
{"p":376,"T":0.3,"G":0.2,"C":0.3,"A":0.25},
{"p":384,"T":0.05,"G":0.1,"C":0.0,"A":0.1},
{"p":392,"T":0.2,"G":0.15,"C":0.1,"A":0.2},
{"p":400,"T":-0.4,"G":-0.3,"C":-0.5,"A":-0.4},
{"p":408,"T":-0.1,"G":-0.2,"C":0.0,"A":-0.1},
{"p":416,"T":-0.8,"G":-0.8,"C":-0.7,"A":-0.6},
{"p":424,"T":-0.2,"G":-0.1,"C":-0.3,"A":-0.2},
{"p":432,"T":-0.6,"G":-0.8,"C":-0.5,"A":-0.7},
{"p":440,"T":0.0,"G":-0.1,"C":0.1,"A":0.0},
{"p":448,"T":-0.5,"G":-0.4,"C":-0.6,"A":-0.5},
{"p":456,"T":0.1,"G":0.2,"C":0.0,"A":0.1},
{"p":464,"T":-0.7,"G":-0.6,"C":-0.9,"A":-0.7},
{"p":472,"T":-0.2,"G":-0.3,"C":-0.1,"A":-0.2},
{"p":480,"T":-0.6,"G":-0.8,"C":-0.7,"A":-0.6},
{"p":488,"T":0.0,"G":0.1,"C":-0.1,"A":0.0},
{"p":496,"T":-0.8,"G":-1.2,"C":-1.0,"A":-0.9},
{"p":504,"T":-1.3,"G":-1.1,"C":-1.35,"A":-1.2},
{"p":512,"T":-0.5,"G":-0.6,"C":-0.4,"A":-0.5},
{"p":520,"T":-0.2,"G":-0.3,"C":-0.1,"A":-0.2},
{"p":528,"T":-0.9,"G":-1.0,"C":-0.8,"A":-0.9},
{"p":536,"T":0.0,"G":0.1,"C":0.0,"A":-0.1},
{"p":544,"T":-0.3,"G":-0.4,"C":-0.2,"A":-0.3},
{"p":552,"T":0.1,"G":0.0,"C":0.15,"A":0.1},
{"p":560,"T":-0.3,"G":-0.2,"C":-0.4,"A":-0.3},
{"p":568,"T":0.1,"G":0.05,"C":0.2,"A":0.1},
{"p":576,"T":-0.2,"G":-0.3,"C":-0.1,"A":-0.2},
{"p":584,"T":0.1,"G":0.2,"C":0.0,"A":0.1},
{"p":592,"T":-0.3,"G":-0.4,"C":-0.2,"A":-0.3},
{"p":600,"T":0.1,"G":0.0,"C":0.2,"A":0.1},
{"p":608,"T":-0.2,"G":-0.1,"C":-0.3,"A":-0.2},
{"p":616,"T":0.0,"G":0.1,"C":-0.1,"A":0.1},
{"p":624,"T":-0.6,"G":-0.7,"C":-0.5,"A":-0.6},
{"p":632,"T":-0.1,"G":-0.2,"C":0.0,"A":-0.1},
{"p":640,"T":-0.8,"G":-1.0,"C":-0.9,"A":-0.8},
{"p":648,"T":-0.3,"G":-0.2,"C":-0.4,"A":-0.3},
{"p":656,"T":-1.0,"G":-1.2,"C":-1.1,"A":-0.9},
{"p":664,"T":-0.4,"G":-0.5,"C":-0.3,"A":-0.4},
{"p":672,"T":-1.3,"G":-1.2,"C":-1.45,"A":-1.3},
{"p":680,"T":-0.2,"G":-0.4,"C":-0.3,"A":-0.2},
{"p":688,"T":-0.9,"G":-1.1,"C":-1.0,"A":-0.9},
{"p":696,"T":-0.3,"G":-0.2,"C":-0.4,"A":-0.3},
{"p":704,"T":-1.2,"G":-1.3,"C":-1.1,"A":-1.2},
{"p":712,"T":-0.4,"G":-0.5,"C":-0.3,"A":-0.6},
{"p":720,"T":-1.0,"G":-1.2,"C":-1.1,"A":-1.0},
{"p":728,"T":-0.2,"G":-0.3,"C":-0.1,"A":-0.2},
{"p":736,"T":-1.2,"G":-1.1,"C":-1.3,"A":-1.2},
{"p":744,"T":-0.5,"G":-0.6,"C":-0.4,"A":-0.5},
{"p":752,"T":-1.3,"G":-1.2,"C":-1.2,"A":-1.4},
{"p":760,"T":-0.1,"G":-0.3,"C":-0.2,"A":-0.2},
{"p":768,"T":-1.1,"G":-1.2,"C":-1.0,"A":-1.1},
{"p":776,"T":-0.4,"G":-0.3,"C":0.0,"A":-0.4},
{"p":784,"T":-1.3,"G":-1.4,"C":-1.2,"A":-1.3},
{"p":792,"T":-0.2,"G":-0.3,"C":-0.4,"A":-0.2},
{"p":800,"T":-1.0,"G":-1.1,"C":-0.9,"A":-1.2},
{"p":808,"T":-0.3,"G":-0.2,"C":-0.4,"A":-0.3},
{"p":816,"T":-1.4,"G":-1.5,"C":-1.3,"A":-1.5},
{"p":824,"T":-0.2,"G":-0.4,"C":-0.3,"A":-0.2},
{"p":832,"T":-1.1,"G":-1.3,"C":-1.2,"A":-1.0},
{"p":840,"T":-0.1,"G":0.0,"C":-0.2,"A":-0.1},
{"p":848,"T":-1.2,"G":-2.05,"C":-1.3,"A":-1.4},
{"p":856,"T":-0.4,"G":-0.6,"C":-0.5,"A":-0.4},
{"p":864,"T":0.2,"G":0.0,"C":0.1,"A":-0.1},
{"p":872,"T":-0.8,"G":-0.9,"C":-0.7,"A":-0.8},
{"p":880,"T":-0.2,"G":-0.3,"C":-0.1,"A":-0.2},
{"p":888,"T":-1.0,"G":-1.1,"C":-0.9,"A":-1.2},
{"p":896,"T":0.0,"G":-0.2,"C":-0.1,"A":0.0},
{"p":904,"T":-0.7,"G":-0.8,"C":-0.6,"A":-0.7},
{"p":912,"T":-0.3,"G":-0.1,"C":-0.4,"A":-0.3},
{"p":920,"T":-1.2,"G":-1.0,"C":-1.1,"A":-1.3},
{"p":928,"T":-0.2,"G":-0.3,"C":-0.1,"A":-0.2},
{"p":936,"T":-0.9,"G":-1.0,"C":-0.8,"A":-0.9},
{"p":944,"T":-0.3,"G":-0.4,"C":-0.2,"A":-0.3},
{"p":952,"T":-1.1,"G":-1.2,"C":-1.0,"A":-1.1},
{"p":960,"T":-0.1,"G":0.0,"C":-0.2,"A":-0.1},
{"p":968,"T":-0.8,"G":-0.5,"C":-0.7,"A":-0.9},
{"p":976,"T":-1.5,"G":-1.4,"C":-1.6,"A":-1.3},
{"p":984,"T":-0.5,"G":-0.6,"C":-0.4,"A":-0.5},
{"p":992,"T":-1.3,"G":-1.4,"C":-1.2,"A":-1.3},
{"p":1000,"T":-0.6,"G":-0.5,"C":-0.7,"A":-0.6},
{"p":1008,"T":-1.8,"G":-1.6,"C":-1.7,"A":-1.5},
{"p":1016,"T":-0.4,"G":-0.6,"C":-0.5,"A":-0.4},
{"p":1024,"T":-1.9,"G":-1.7,"C":-1.8,"A":-1.7},
{"p":1032,"T":-0.3,"G":-0.5,"C":-0.4,"A":-0.6},
{"p":1040,"T":-1.2,"G":-1.4,"C":-1.3,"A":-1.2},
{"p":1048,"T":-0.2,"G":-0.3,"C":-0.1,"A":-0.3},
{"p":1056,"T":-1.0,"G":-1.2,"C":-1.1,"A":-0.9},
{"p":1064,"T":-0.5,"G":-0.6,"C":-0.4,"A":-0.5},
{"p":1072,"T":-1.3,"G":-1.2,"C":-1.4,"A":-1.3},
{"p":1080,"T":-0.3,"G":-0.4,"C":-0.5,"A":-0.3},
{"p":1088,"T":-1.1,"G":-1.0,"C":-1.2,"A":-1.1},
{"p":1096,"T":-0.4,"G":-0.5,"C":-0.3,"A":-0.4},
{"p":1104,"T":-1.4,"G":-1.3,"C":-1.2,"A":-1.5},
{"p":1112,"T":-0.2,"G":-0.3,"C":-0.4,"A":-0.3},
{"p":1120,"T":-1.2,"G":-1.3,"C":-1.1,"A":-1.2},
{"p":1128,"T":-0.6,"G":-0.7,"C":-0.5,"A":-0.6},
{"p":1136,"T":-1.3,"G":-1.5,"C":-1.4,"A":-1.3},
{"p":1144,"T":-0.4,"G":-0.3,"C":-0.5,"A":-0.4},
{"p":1152,"T":-1.5,"G":-1.6,"C":-1.4,"A":-1.5},
{"p":1160,"T":-0.6,"G":-0.7,"C":-0.6,"A":-0.8},
{"p":1168,"T":-1.2,"G":-1.0,"C":-1.3,"A":-1.1},
{"p":1176,"T":-0.4,"G":-0.5,"C":-0.3,"A":-0.4},
{"p":1184,"T":-1.6,"G":-1.5,"C":-1.5,"A":-1.7},
{"p":1192,"T":-0.5,"G":-0.6,"C":-0.7,"A":-0.5},
{"p":1200,"T":-2.0,"G":-1.9,"C":-1.8,"A":-2.1},
{"p":1208,"T":-0.8,"G":-2.0,"C":-1.0,"A":-0.9},
{"p":1216,"T":-0.2,"G":-0.4,"C":-0.3,"A":-0.2},
{"p":1224,"T":-1.2,"G":-1.4,"C":-1.3,"A":-1.2},
{"p":1232,"T":-0.4,"G":-0.5,"C":-0.3,"A":-0.4},
{"p":1240,"T":-1.1,"G":-0.9,"C":-1.0,"A":-1.2},
{"p":1248,"T":-0.1,"G":-0.3,"C":-0.2,"A":-0.1},
{"p":1256,"T":-0.9,"G":-1.0,"C":-0.8,"A":-1.3},
{"p":1264,"T":-0.4,"G":-0.5,"C":-0.3,"A":-0.4},
{"p":1272,"T":-1.2,"G":-1.1,"C":-1.3,"A":-1.2},
{"p":1280,"T":-0.6,"G":-0.7,"C":-0.5,"A":-0.6},
{"p":1288,"T":-1.0,"G":-1.2,"C":-1.1,"A":-0.9},
{"p":1296,"T":-0.3,"G":-0.4,"C":-0.2,"A":-0.3},
{"p":1304,"T":-1.1,"G":-1.0,"C":-1.2,"A":-1.1},
{"p":1312,"T":-0.5,"G":-0.6,"C":-0.4,"A":-0.5},
{"p":1320,"T":-1.3,"G":-1.2,"C":-1.4,"A":-1.3},
{"p":1328,"T":-0.3,"G":-0.2,"C":-0.4,"A":-0.3},
{"p":1336,"T":-1.0,"G":-1.1,"C":-0.9,"A":-1.0},
{"p":1344,"T":-0.4,"G":-0.2,"C":-0.5,"A":-0.4},
{"p":1352,"T":-1.2,"G":-1.3,"C":-1.1,"A":-1.2},
{"p":1360,"T":-0.3,"G":-0.5,"C":-0.4,"A":-0.3},
{"p":1368,"T":-1.5,"G":-1.4,"C":-1.3,"A":-1.5},
{"p":1376,"T":-0.5,"G":-0.6,"C":-0.4,"A":-0.5},
{"p":1384,"T":-1.6,"G":-1.4,"C":-1.5,"A":-1.6},
{"p":1392,"T":-0.4,"G":-0.3,"C":-0.5,"A":-0.4},
{"p":1400,"T":-1.2,"G":-1.3,"C":-1.1,"A":-1.2},
{"p":1408,"T":-0.5,"G":-0.4,"C":-0.6,"A":-0.5},
{"p":1416,"T":-1.1,"G":-1.3,"C":-1.4,"A":-1.0},
{"p":1424,"T":-0.3,"G":-0.4,"C":-0.2,"A":-0.3},
{"p":1432,"T":-1.0,"G":-1.2,"C":-0.9,"A":-1.3},
{"p":1440,"T":-0.2,"G":-0.3,"C":-0.1,"A":-0.2},
{"p":1448,"T":-0.9,"G":-0.8,"C":-1.0,"A":-0.9},
{"p":1456,"T":-0.3,"G":-1.1,"C":-0.4,"A":-1.3},
{"p":1464,"T":0.1,"G":0.0,"C":0.2,"A":0.1},
{"p":1472,"T":-0.1,"G":-0.2,"C":0.0,"A":-0.1},
{"p":1480,"T":0.1,"G":0.15,"C":0.0,"A":0.1},
{"p":1488,"T":-0.3,"G":-0.4,"C":-0.2,"A":-0.3},
{"p":1496,"T":0.1,"G":0.2,"C":0.1,"A":0.05},
{"p":1504,"T":-0.1,"G":-0.2,"C":0.0,"A":-0.1},
{"p":1512,"T":0.2,"G":0.1,"C":0.15,"A":0.2},
{"p":1520,"T":0.0,"G":-0.1,"C":-0.05,"A":0.0},
{"p":1528,"T":0.15,"G":0.2,"C":0.1,"A":0.1},
{"p":1536,"T":-0.1,"G":-0.2,"C":-0.1,"A":0.0},
{"p":1544,"T":0.1,"G":0.0,"C":0.05,"A":0.15},
{"p":1552,"T":-0.2,"G":-0.1,"C":-0.2,"A":-0.1},
{"p":1560,"T":0.1,"G":0.15,"C":0.1,"A":0.05},
{"p":1568,"T":-0.1,"G":0.0,"C":-0.1,"A":-0.05},
{"p":1576,"T":0.1,"G":0.2,"C":0.0,"A":0.1},
{"p":1584,"T":-0.7,"G":-0.3,"C":-0.4,"A":-0.6},
{"p":1592,"T":0.2,"G":0.1,"C":-0.8,"A":0.1},
{"p":1600,"T":0.72,"G":0.3,"C":0.2,"A":0.4},
{"p":1608,"T":0.2,"G":0.6,"C":0.1,"A":0.3},
{"p":1616,"T":0.4,"G":0.3,"C":0.2,"A":0.35},
{"p":1624,"T":0.1,"G":0.2,"C":0.0,"A":0.1},
{"p":1632,"T":0.3,"G":0.2,"C":0.25,"A":0.3},
{"p":1640,"T":-0.1,"G":0.0,"C":-0.2,"A":-0.1},
{"p":1648,"T":0.2,"G":0.3,"C":0.15,"A":0.2},
{"p":1656,"T":0.0,"G":0.1,"C":-0.1,"A":0.0},
{"p":1664,"T":0.3,"G":0.2,"C":0.25,"A":0.35},
{"p":1672,"T":0.0,"G":0.6,"C":0.1,"A":0.0},
{"p":1680,"T":0.25,"G":0.2,"C":0.3,"A":0.2},
{"p":1688,"T":0.0,"G":-0.1,"C":0.05,"A":0.0},
{"p":1696,"T":0.45,"G":0.3,"C":0.2,"A":0.5},
{"p":1704,"T":0.1,"G":0.0,"C":0.1,"A":0.05},
{"p":1712,"T":0.3,"G":0.2,"C":0.3,"A":0.25},
{"p":1720,"T":-0.1,"G":0.0,"C":-0.1,"A":-0.1},
{"p":1728,"T":0.2,"G":0.1,"C":0.15,"A":0.2},
{"p":1736,"T":0.0,"G":0.1,"C":0.0,"A":0.05},
{"p":1744,"T":0.4,"G":0.3,"C":0.2,"A":0.3},
{"p":1752,"T":-0.1,"G":0.0,"C":-0.1,"A":0.0},
{"p":1760,"T":0.2,"G":0.3,"C":0.1,"A":0.2},
{"p":1768,"T":-0.7,"G":0.0,"C":-0.1,"A":-0.2},
{"p":1776,"T":0.3,"G":0.2,"C":0.4,"A":0.2},
{"p":1784,"T":-0.5,"G":-0.2,"C":-0.1,"A":-0.3},
{"p":1792,"T":0.1,"G":0.2,"C":0.0,"A":0.1},
{"p":1800,"T":-0.6,"G":-0.1,"C":-0.2,"A":-0.3},
{"p":1808,"T":0.2,"G":0.4,"C":0.1,"A":0.2},
{"p":1816,"T":0.0,"G":0.1,"C":-0.1,"A":0.0},
{"p":1824,"T":1.0,"G":0.3,"C":0.2,"A":1.0},
{"p":1832,"T":-0.4,"G":0.0,"C":-0.3,"A":-0.2},
{"p":1840,"T":0.2,"G":0.4,"C":0.3,"A":0.1},
{"p":1848,"T":-0.5,"G":-0.1,"C":-0.4,"A":-0.3},
{"p":1856,"T":0.3,"G":0.2,"C":0.6,"A":0.25},
{"p":1864,"T":0.0,"G":0.1,"C":-0.2,"A":0.0}
]
},
"vconcat": [
 {
  "hconcat": [
   {
    "width": 295, "height": 239,
    "title": {"text": "A", "dx": -6},
    "data": {"name": "a"},
    "encoding": {
     "x": {"field": "c", "type": "quantitative", "title": "codon position", "scale": {"domain": [0, 618], "nice": false, "zero": false}, "axis": {"values": [0,100,200,300,400,500,600], "format": "d", "titlePadding": 3, "labelOverlap": false}},
     "y": {"type": "quantitative", "title": "log2(s')", "scale": {"domain": [-2.5, 1], "nice": false, "zero": false}, "axis": {"values": [-2.5,-2,-1.5,-1,-0.5,0,0.5,1], "format": ".1f", "titlePadding": 3, "titleFontSize": 15, "labelOverlap": false}}
    },
    "layer": [
     {"mark": {"type": "point", "filled": true, "size": 5, "color": "#e8708e", "opacity": 1, "clip": true}, "encoding": {"y": {"field": "ps"}}},
     {"mark": {"type": "point", "filled": true, "size": 5, "color": "#222222", "opacity": 1, "clip": true}, "encoding": {"y": {"field": "pn"}}},
     {"mark": {"type": "line", "strokeWidth": 1.5, "clip": true}, "encoding": {"y": {"field": "st"}, "color": {"datum": "stops", "type": "nominal", "scale": {"domain": ["stops", "non-stops"], "range": ["#e8708e", "#2a2a2a"]}, "legend": {"legendX": 10, "legendY": 178.5, "symbolType": "stroke", "symbolSize": 200, "symbolStrokeWidth": 1.5, "labelFontSize": 14.5, "labelOffset": 6, "rowPadding": 0}}}},
     {"mark": {"type": "line", "strokeWidth": 1.5, "clip": true}, "encoding": {"y": {"field": "ns"}, "color": {"datum": "non-stops", "type": "nominal"}}}
    ]
   },
   {
    "width": 295, "height": 239,
    "title": {"text": "B", "dx": -6},
    "data": {"name": "b"},
    "encoding": {
     "x": {"field": "c", "type": "quantitative", "title": "codon position", "scale": {"domain": [-29, 650], "nice": false, "zero": false}, "axis": {"values": [0,100,200,300,400,500,600], "format": "d", "titlePadding": 3, "labelOverlap": false}},
     "y": {"type": "quantitative", "title": "log2(s')", "scale": {"domain": [-2.5, 1], "nice": false, "zero": false}, "axis": {"values": [-2.5,-2,-1.5,-1,-0.5,0,0.5,1], "format": ".1f", "titlePadding": 3, "titleFontSize": 15, "labelOverlap": false}}
    },
    "layer": [
     {"mark": {"type": "point", "filled": true, "size": 5, "color": "#e8708e", "opacity": 1, "clip": true}, "encoding": {"y": {"field": "ps"}}},
     {"mark": {"type": "point", "filled": true, "size": 5, "color": "#222222", "opacity": 1, "clip": true}, "encoding": {"y": {"field": "pn"}}},
     {"mark": {"type": "line", "strokeWidth": 1.5, "clip": true}, "encoding": {"y": {"field": "st"}, "color": {"datum": "stops", "type": "nominal", "scale": {"domain": ["stops", "non-stops"], "range": ["#e8708e", "#2a2a2a"]}, "legend": {"legendX": 10, "legendY": 178.5, "symbolType": "stroke", "symbolSize": 200, "symbolStrokeWidth": 1.5, "labelFontSize": 14.5, "labelOffset": 6, "rowPadding": 0}}}},
     {"mark": {"type": "line", "strokeWidth": 1.5, "clip": true}, "encoding": {"y": {"field": "ns"}, "color": {"datum": "non-stops", "type": "nominal"}}}
    ]
   }
  ],
  "spacing": 3.3,
  "resolve": {"scale": {"color": "independent", "x": "independent", "y": "independent"}, "legend": {"color": "independent"}}
 },
 {
  "width": 663, "height": 270,
  "title": {"text": "C", "dx": -1, "offset": -11.7},
  "data": {"name": "c"},
  "encoding": {
   "x": {"field": "p", "type": "quantitative", "title": "nucleotide position", "scale": {"domain": [-3, 1868], "nice": false, "zero": false}, "axis": {"values": [0,250,500,750,1000,1250,1500,1750], "format": "d", "titleFontSize": 15.5, "titlePadding": 6, "labelOverlap": false}},
   "y": {"type": "quantitative", "title": "log2(s')", "scale": {"domain": [-3.5, 1], "nice": false, "zero": false}, "axis": {"values": [-3.5,-3,-2.5,-2,-1.5,-1,-0.5,0,0.5,1], "format": ".1f", "titleFontSize": 15.5, "titlePadding": 3, "labelOverlap": false}}
  },
  "layer": [
   {"mark": {"type": "line", "strokeWidth": 2.2, "strokeJoin": "round", "clip": true}, "encoding": {"y": {"field": "A"}, "color": {"datum": "A", "type": "nominal", "scale": {"domain": ["T","G","C","A"], "range": ["#ff7f0e","#1010c0","#22ee22","#e6177a"]}, "legend": {"legendX": 8, "legendY": 185, "symbolType": "circle", "symbolSize": 140, "symbolStrokeWidth": 0, "labelFontSize": 17, "labelOffset": 7, "rowPadding": 3.7, "encode": {"symbols": {"update": {"fill": {"signal": "datum.value === 'T' ? '#ff7f0e' : datum.value === 'G' ? '#1010c0' : datum.value === 'C' ? '#22ee22' : '#e6177a'"}, "fillOpacity": {"value": 1}, "opacity": {"value": 1}}}}}}}},
   {"mark": {"type": "line", "strokeWidth": 2.2, "strokeJoin": "round", "clip": true}, "encoding": {"y": {"field": "C"}, "color": {"datum": "C", "type": "nominal"}}},
   {"mark": {"type": "line", "strokeWidth": 2.2, "strokeJoin": "round", "clip": true}, "encoding": {"y": {"field": "G"}, "color": {"datum": "G", "type": "nominal"}}},
   {"mark": {"type": "line", "strokeWidth": 2.5, "strokeJoin": "round", "clip": true}, "encoding": {"y": {"field": "T"}, "color": {"datum": "T", "type": "nominal"}}}
  ]
 },
 {
  "width": 663, "height": 269,
  "title": {"text": "D", "dx": -1, "offset": -8.8},
  "data": {"name": "d"},
  "encoding": {
   "x": {"field": "p", "type": "quantitative", "title": "nucleotide position", "scale": {"domain": [-3, 1868], "nice": false, "zero": false}, "axis": {"values": [0,250,500,750,1000,1250,1500,1750], "format": "d", "titleFontSize": 15.5, "titlePadding": 6, "labelOverlap": false}},
   "y": {"type": "quantitative", "title": "log2(s')", "scale": {"domain": [-3.5, 1], "nice": false, "zero": false}, "axis": {"values": [-3.5,-3,-2.5,-2,-1.5,-1,-0.5,0,0.5,1], "format": ".1f", "titleFontSize": 15.5, "titlePadding": 3, "labelOverlap": false}}
  },
  "layer": [
   {"mark": {"type": "line", "strokeWidth": 2.2, "strokeJoin": "round", "clip": true}, "encoding": {"y": {"field": "A"}, "color": {"datum": "A", "type": "nominal", "scale": {"domain": ["T","G","C","A"], "range": ["#ff7f0e","#1010c0","#22ee22","#e6177a"]}, "legend": {"legendX": 8, "legendY": 185, "symbolType": "circle", "symbolSize": 140, "symbolStrokeWidth": 0, "labelFontSize": 17, "labelOffset": 7, "rowPadding": 3.7, "encode": {"symbols": {"update": {"fill": {"signal": "datum.value === 'T' ? '#ff7f0e' : datum.value === 'G' ? '#1010c0' : datum.value === 'C' ? '#22ee22' : '#e6177a'"}, "fillOpacity": {"value": 1}, "opacity": {"value": 1}}}}}}}},
   {"mark": {"type": "line", "strokeWidth": 2.2, "strokeJoin": "round", "clip": true}, "encoding": {"y": {"field": "C"}, "color": {"datum": "C", "type": "nominal"}}},
   {"mark": {"type": "line", "strokeWidth": 2.2, "strokeJoin": "round", "clip": true}, "encoding": {"y": {"field": "G"}, "color": {"datum": "G", "type": "nominal"}}},
   {"mark": {"type": "line", "strokeWidth": 2.5, "strokeJoin": "round", "clip": true}, "encoding": {"y": {"field": "T"}, "color": {"datum": "T", "type": "nominal"}}}
  ]
 }
]
}
